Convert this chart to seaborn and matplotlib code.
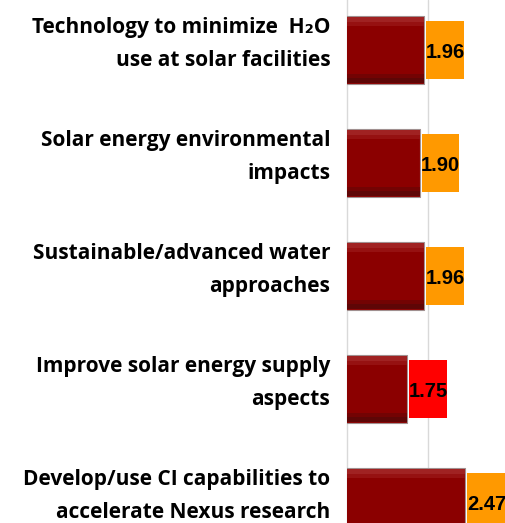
import numpy as np
import pandas as pd
import matplotlib
matplotlib.use("Agg")
import matplotlib.pyplot as plt
import matplotlib.transforms as mtransforms
import seaborn as sns

# chart data
categories = [
    "Technology to minimize  H\u2082O\nuse at solar facilities",
    "Solar energy environmental\nimpacts",
    "Sustainable/advanced water\napproaches",
    "Improve solar energy supply\naspects",
    "Develop/use CI capabilities to\naccelerate Nexus research",
]
scores = [1.96, 1.90, 1.96, 1.75, 2.47]
label_colors = ["#FF9900", "#FF9900", "#FF9900", "#FF0000", "#FF9900"]

df = pd.DataFrame({"topic": categories, "score": scores})

sns.set_style("white")
plt.rcParams["font.family"] = ["Open Sans", "DejaVu Sans"]

fig = plt.figure(figsize=(5.05, 5.23), dpi=100)
ax = fig.add_axes([347 / 505, 0, 158 / 505, 1])

bar_h = 0.6
sns.barplot(data=df, y="topic", x="score", orient="h", color="#8B0000",
            saturation=1, width=bar_h, edgecolor="#a09090", linewidth=0.8,
            ax=ax, zorder=3)

# bevel effect: lighter band on top, darker band at the bottom
y = np.arange(len(scores))
bevel = dict(linewidth=0, zorder=4)
ax.barh(y - bar_h / 2 + 0.03, scores, height=0.04, color="#A02222", **bevel)
ax.barh(y - bar_h / 2 + 0.07, scores, height=0.04, color="#961111", **bevel)
ax.barh(y + bar_h / 2 - 0.03, scores, height=0.04, color="#5E0606", **bevel)
ax.barh(y + bar_h / 2 - 0.07, scores, height=0.04, color="#730303", **bevel)

# value labels in coloured boxes
box_w = 0.47
gap = 0.025
ax.barh(y, box_w, left=np.array(scores) + gap, height=0.52,
        color=label_colors, linewidth=0, zorder=3)
for yi, v in zip(y, scores):
    ax.text(v + gap + box_w / 2, yi + 0.02, f"{v:.2f}", ha="center", va="center",
            fontsize=14.5, fontweight="bold", color="black",
            family=["Liberation Sans", "DejaVu Sans"], zorder=5)

ax.set_xticks([2])
ax.set_xticklabels([])
ax.tick_params(axis="x", length=0)
ax.grid(axis="x", color="#d9d9d9", linewidth=1, zorder=0)
ax.set_axisbelow(True)
ax.set_xlabel("")
ax.set_ylabel("")

ax.set_yticks(y)
ax.set_yticklabels(categories, fontsize=15, fontweight="bold",
                   color="black", linespacing=1.8)
ax.tick_params(axis="y", which="major", length=0, pad=12)
ax.set_yticks(np.arange(len(scores) + 1) - 0.5, minor=True)
ax.tick_params(axis="y", which="minor", length=4, color="#d9d9d9", width=1)
# category labels sit a little above the bar centres
shift = mtransforms.ScaledTranslation(0, 15 / 100, fig.dpi_scale_trans)
for lab in ax.get_yticklabels():
    lab.set_transform(lab.get_transform() + shift)

# limits last, so the tick calls do not widen them; chart is cropped at the edges
ax.set_xlim(1, 1 + 158 / 80.6)
ax.set_ylim((523 - 50) / 113, -50 / 113)

for s in ["top", "right", "bottom"]:
    ax.spines[s].set_visible(False)
ax.spines["left"].set_color("#d9d9d9")
ax.spines["left"].set_linewidth(1)

fig.savefig("out.png", dpi=100)
